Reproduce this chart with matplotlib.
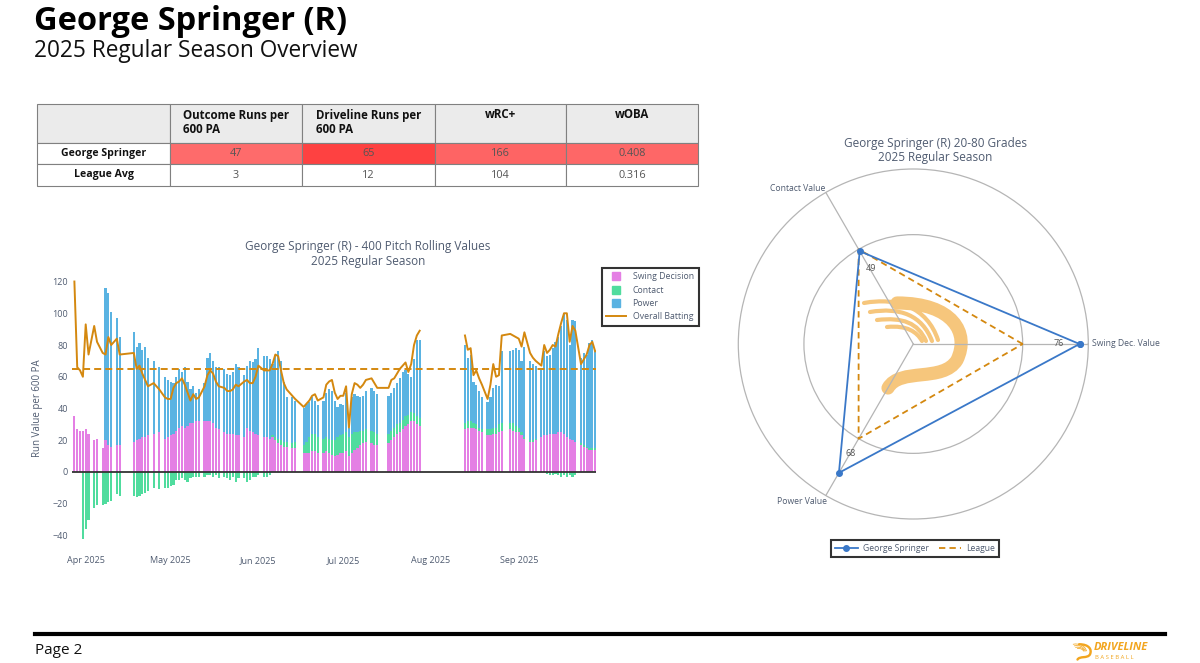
import numpy as np
import pandas as pd
import matplotlib
matplotlib.use("Agg")
import matplotlib.pyplot as plt
import matplotlib.dates as mdates
from matplotlib.patches import Rectangle, PathPatch
from matplotlib.path import Path
from matplotlib.lines import Line2D

plt.rcParams['font.family'] = ['Open Sans', 'DejaVu Sans']

# ---- summary table
table_cols = ["Outcome Runs per\n600 PA", "Driveline Runs per\n600 PA", "wRC+", "wOBA"]
table_rows = ["George Springer", "League Avg"]
springer_vals = ["47", "65", "166", "0.408"]
league_vals = ["3", "12", "104", "0.316"]

# ---- 20-80 grades
radar_cats = ["Swing Dec. Value", "Contact Value", "Power Value"]
springer_grades = [76, 49, 68]
league_grades = [50, 50, 50]

# ---- 400 pitch rolling values (one entry per game)
game_runs = [("03-28", "04-02"), ("04-04", "04-05"), ("04-07", "04-10"), ("04-12", "04-13"),
             ("04-18", "04-23"), ("04-25", "04-25"), ("04-27", "04-27"), ("04-29", "05-11"),
             ("05-13", "05-18"), ("05-20", "05-25"), ("05-27", "06-01"), ("06-03", "06-11"),
             ("06-13", "06-14"), ("06-17", "06-22"), ("06-24", "07-09"), ("07-11", "07-13"),
             ("07-17", "07-28"), ("08-13", "08-19"), ("08-21", "08-26"), ("08-29", "09-03"),
             ("09-05", "09-07"), ("09-09", "09-21"), ("09-23", "09-28")]

swing = [35, 27, 26, 26, 27, 24,
         20, 21,
         15, 20, 17, 16,
         17, 17,
         19, 20, 21, 22, 22, 23,
         24,
         25,
         21, 22, 23, 24, 26, 28, 29, 28, 29, 31, 31, 32, 32,
         32, 32, 32, 31, 28, 27,
         25, 24, 24, 24, 23, 23,
         22, 28, 26, 25, 24, 23,
         22, 22, 21, 22, 20, 18, 17, 16, 16,
         15, 15,
         12, 12, 12, 13, 13, 12,
         12, 13, 12, 11, 10, 11, 12, 12, 13, 10, 12, 14, 15, 17, 18, 19,
         18, 17, 17,
         18, 20, 22, 24, 25, 27, 29, 30, 32, 32, 30, 29,
         27, 28, 28, 28, 27, 26, 25,
         23, 23, 24, 24, 25, 26,
         27, 26, 25, 25, 23, 21,
         19, 19, 20,
         22, 23, 23, 24, 24, 24, 25, 25, 24, 22, 21, 20, 19,
         17, 16, 15, 14, 14, 14]

contact = [0, 0, 0, -42, -36, -30,
           -23, -21,
           -21, -20, -19, -18,
           -14, -15,
           -15, -16, -15, -14, -13, -12,
           -10,
           -11,
           -10, -10, -9, -8, -5, -5, -4, -5, -6, -4, -3, -3, -3,
           -3, -2, -2, -3, -2, -4,
           -3, -4, -5, -3, -6, -4,
           -4, -6, -5, -3, -3, -2,
           -3, -3, -2, 1, 2, 3, 3, 3, 3,
           3, 4,
           5, 7, 10, 11, 11, 10,
           9, 9, 9, 9, 10, 11, 11, 12, 12, 12, 12, 11, 10, 9, 8, 8,
           8, 8, 7,
           6, 6, 6, 6, 6, 6, 6, 6, 6, 5, 5, 5,
           4, 4, 4, 3, 3, 2, 2,
           4, 4, 4, 4, 5, 5,
           4, 5, 4, 3, 2, 1,
           1, 1, 1,
           0, 0, -1, -2, -2, -1, -2, -3, -2, -3, -2, -3, -2,
           1, 1, 1, 1, 1, 1]

power = [0, 0, 0, 0, 0, 0,
         0, 0,
         0, 96, 96, 85,
         80, 68,
         69, 59, 60, 55, 57, 49,
         46,
         41,
         39, 36, 34, 32, 34, 37, 34, 38, 28, 21, 23, 18, 20,
         24, 40, 43, 39, 38, 39,
         40, 38, 37, 39, 45, 43,
         39, 39, 44, 44, 47, 55,
         51, 51, 50, 45, 52, 55, 50, 38, 28,
         29, 26,
         23, 24, 22, 23, 21, 20,
         24, 28, 31, 31, 25, 19, 20, 18, 25, 6, 23, 24, 23, 21, 22, 24,
         27, 26, 25,
         24, 24, 25, 26, 28, 30, 29, 26, 22, 34, 48, 49,
         49, 40, 42, 26, 25, 23, 20,
         17, 20, 25, 27, 24, 45,
         45, 46, 49, 49, 45, 57,
         50, 48, 46,
         42, 53, 50, 50, 54, 58, 60, 67, 76, 74, 59, 76, 76,
         54, 58, 58, 66, 68, 62]

overall = [120, 66, 64, 60, 93, 74,
           92, 82,
           75, 74, 85, 80,
           84, 74,
           75, 65, 67, 62, 58, 54,
           56,
           52,
           47, 46, 46, 53, 56, 57, 59, 55, 50, 45, 49, 46, 47,
           54, 61, 64, 62, 57, 54,
           53, 51, 51, 52, 55, 54,
           57, 58, 56, 56, 60, 67,
           64, 64, 64, 68, 74, 73, 64, 56, 52,
           48, 46,
           41, 43, 45, 48, 49, 45,
           47, 55, 57, 58, 50, 46, 48, 48, 54, 28, 49, 56, 55, 53, 55, 58,
           59, 56, 53,
           53, 58, 59, 62, 65, 67, 69, 63, 68, 80, 86, 89,
           86, 77, 78, 61, 64, 59, 55,
           46, 55, 68, 60, 61, 86,
           87, 86, 85, 84, 79, 88,
           75, 72, 70,
           67, 80, 75, 77, 80, 79, 87, 94, 100, 100, 82, 92, 89,
           68, 71, 74, 80, 82, 76]

driveline_avg = 65

PINK = '#e47fe4'
GREEN = '#50dc9e'
BLUE = '#5ab3e2'
ORANGE = '#d4880f'
SPR_BLUE = '#3a78c8'
TXT = '#4f5b70'
LOGO = '#f6c67c'


def stroke(ax, pts, lw, color, zorder=1):
    codes = [Path.MOVETO] + [Path.CURVE4] * (len(pts) - 1)
    ax.add_patch(PathPatch(Path(pts, codes), fill=False, lw=lw, edgecolor=color,
                           capstyle='round', zorder=zorder))


def draw_logo(ax, x0, y0, s, color):
    # Driveline swoosh, shapes given relative to its top-left corner
    d_shape = [(34, 7), (90, 7), (107, 37), (94, 64), (80, 87), (37, 71), (25, 92)]
    stripes = [[(1, 7), (34, 1), (64, 11), (75, 44)],
               [(7, 16), (37, 11), (59, 19), (69, 45)],
               [(14, 24), (40, 21), (55, 27), (63, 45)],
               [(24, 31), (44, 29), (54, 36), (59, 45)]]
    stroke(ax, [(x0 + s * a, y0 + s * b) for a, b in d_shape], 9.5 * s, color)
    for st in stripes:
        stroke(ax, [(x0 + s * a, y0 + s * b) for a, b in st], 3.0 * s, color)


fig = plt.figure(figsize=(12, 6.63), dpi=100)

# page layer in pixel coordinates
page = fig.add_axes([0, 0, 1, 1], zorder=0)
page.set_xlim(0, 1200)
page.set_ylim(663, 0)
page.axis('off')

page.text(34, 5, "George Springer (R)", fontsize=23.5, fontweight='bold', va='top', color='black')
page.text(34, 39, "2025 Regular Season Overview", fontsize=16.3, va='top', color='#111111')

# table
col_x = [37, 170, 302, 435, 566, 698]
row_y = [104, 143, 164, 186]
heat = ['#fe6b6b', '#fe4141', '#fe6464', '#fe6767']
for i in range(5):
    for j in range(3):
        if j == 0:
            fc = '#ebebeb'
        elif j == 1 and i > 0:
            fc = heat[i - 1]
        else:
            fc = 'white'
        page.add_patch(Rectangle((col_x[i], row_y[j]), col_x[i + 1] - col_x[i],
                                 row_y[j + 1] - row_y[j], facecolor=fc,
                                 edgecolor='#808080', lw=0.8))
for i, c in enumerate(table_cols):
    page.text((col_x[i + 1] + col_x[i + 2]) / 2, 108.5, c, ha='center', va='top',
              multialignment='left', fontsize=8.3, fontweight='bold', color='#111111',
              linespacing=1.15)
for j, (name, vals) in enumerate(zip(table_rows, [springer_vals, league_vals])):
    yc = (row_y[j + 1] + row_y[j + 2]) / 2
    page.text((col_x[0] + col_x[1]) / 2, yc, name, ha='center', va='center',
              fontsize=7.6, fontweight='bold', color='#111111')
    for i, v in enumerate(vals):
        page.text((col_x[i + 1] + col_x[i + 2]) / 2, yc, v, ha='center', va='center',
                  fontsize=7.8, color='#555555')

# footer
page.plot([35, 1165], [634, 634], color='black', lw=3)
page.text(35, 651, "Page 2", fontsize=11, va='center', color='#111111')
draw_logo(page, 1073, 643, 0.18, '#f2a51e')
page.text(1094, 648, "DRIVELINE", fontsize=8, fontweight='bold', style='italic',
          va='center', color='#f2a51e')
page.text(1095, 657.5, "B A S E B A L L", fontsize=4.2, va='center', color='#f2a51e')

# radar watermark
draw_logo(page, 863, 296, 1.0, LOGO)

# ---- rolling values chart
dates = pd.DatetimeIndex(np.concatenate(
    [pd.date_range("2025-" + a, "2025-" + b).values for a, b in game_runs]))
sw = np.array(swing, float)
ct = np.array(contact, float)
pw = np.array(power, float)
ov = np.array(overall, float)

ax = fig.add_axes([71.7 / 1200, 1 - 545 / 663, (596 - 71.7) / 1200, (545 - 272) / 663], zorder=2)
ax.bar(dates, sw, width=0.78, color=PINK, lw=0)
ax.bar(dates, ct, width=0.78, bottom=np.where(ct > 0, sw, 0), color=GREEN, lw=0)
ax.bar(dates, pw, width=0.78, bottom=sw + np.clip(ct, 0, None), color=BLUE, lw=0)

gap = np.diff(dates.values).astype('timedelta64[D]').astype(int)
brk = np.where(gap > 7)[0] + 1
for d_seg, v_seg in zip(np.split(dates.values, brk), np.split(ov, brk)):
    ax.plot(d_seg, v_seg, color=ORANGE, lw=1.4, zorder=4)
ax.axhline(driveline_avg, color=ORANGE, lw=1.4, dashes=(3.6, 2.1), zorder=3)
ax.axhline(0, color='#333333', lw=1.3, zorder=3)

start = mdates.date2num(pd.Timestamp("2025-04-01"))
ax.set_xlim(start - 4.95, start + 180.3)
ax.set_ylim(-46, 126)
ax.set_yticks(range(-40, 121, 20))
ax.xaxis.set_major_locator(mdates.MonthLocator())
ax.xaxis.set_major_formatter(mdates.DateFormatter('%b %Y'))
ax.tick_params(axis='both', length=0, labelsize=6.5, labelcolor=TXT)
ax.tick_params(axis='x', pad=8)
ax.tick_params(axis='y', pad=2.5)
for sp in ax.spines.values():
    sp.set_visible(False)
ax.set_ylabel("Run Value per 600 PA", fontsize=7, color=TXT, labelpad=7)
fig.text(368 / 1200, 1 - 246.5 / 663, "George Springer (R) - 400 Pitch Rolling Values",
         ha='center', va='center', fontsize=8.5, color=TXT)
fig.text(368 / 1200, 1 - 261.5 / 663, "2025 Regular Season",
         ha='center', va='center', fontsize=8.5, color=TXT)

bar_handles = [Line2D([], [], marker='s', ls='none', color=PINK, ms=6),
               Line2D([], [], marker='s', ls='none', color=GREEN, ms=6),
               Line2D([], [], marker='s', ls='none', color=BLUE, ms=6),
               Line2D([], [], color=ORANGE, lw=1.4)]
leg = fig.legend(bar_handles, ["Swing Decision", "Contact", "Power", "Overall Batting"],
                 loc='upper left', bbox_to_anchor=(601.5 / 1200, 1 - 267.5 / 663),
                 fontsize=6.3, frameon=True, fancybox=False, borderpad=0.55,
                 labelspacing=0.5, handlelength=2.2, handletextpad=0.8, borderaxespad=0)
leg.get_frame().set_edgecolor('black')
leg.get_frame().set_linewidth(1.5)
for t in leg.get_texts():
    t.set_color(TXT)

# ---- radar chart
rad = fig.add_axes([738.3 / 1200, 1 - 519 / 663, 350 / 1200, 350 / 663],
                   projection='polar', zorder=2)
rad.patch.set_alpha(0)
theta = np.deg2rad([0, 120, 240])
th_closed = np.append(theta, theta[0])
rad.set_ylim(0, 80)
rad.set_yticks([50])
rad.set_yticklabels([])
rad.set_xticks(theta)
rad.set_xticklabels([])
rad.grid(color='#b5b5b5', lw=0.9)
rad.spines['polar'].set_color('#b5b5b5')
rad.spines['polar'].set_linewidth(0.9)

rad.plot(th_closed, league_grades + league_grades[:1], color=ORANGE, lw=1.3,
         dashes=(3.5, 2.3), zorder=3)
rad.plot(th_closed, springer_grades + springer_grades[:1], color=SPR_BLUE, lw=1.3,
         marker='o', ms=4, zorder=4)

val_offsets = [(-15, 0), (8, -12.5), (8.5, 14)]
for t, g, off in zip(theta, springer_grades, val_offsets):
    rad.annotate(str(g), (t, g), xytext=off, textcoords='offset points',
                 ha='center', va='center', fontsize=6.5, color='#555555')
cat_offsets = [(2.5, 0, 'left'), (-20, 2.5, 'center'), (-17, -4, 'center')]
for t, name, (dx, dy, ha) in zip(theta, radar_cats, cat_offsets):
    rad.annotate(name, (t, 80), xytext=(dx, dy), textcoords='offset points',
                 ha=ha, va='center', fontsize=6.2, color=TXT, annotation_clip=False)

fig.text(935 / 1200, 1 - 143 / 663, "George Springer (R) 20-80 Grades",
         ha='center', va='center', fontsize=8.5, color=TXT)
fig.text(935 / 1200, 1 - 158 / 663, "2025 Regular Season",
         ha='center', va='center', fontsize=8.5, color=TXT)

rad_handles = [Line2D([], [], color=SPR_BLUE, lw=1.3, marker='o', ms=4),
               Line2D([], [], color=ORANGE, lw=1.3, dashes=(3.5, 2.3))]
leg2 = fig.legend(rad_handles, ["George Springer", "League"], loc='center',
                  bbox_to_anchor=(915.3 / 1200, 1 - 548.8 / 663), ncol=2,
                  fontsize=6.2, frameon=True, fancybox=False, borderpad=0.45,
                  handlelength=2.6, handletextpad=0.6, columnspacing=1.2)
leg2.get_frame().set_edgecolor('black')
leg2.get_frame().set_linewidth(1.5)
for t in leg2.get_texts():
    t.set_color(TXT)

fig.savefig("out.png", dpi=100, facecolor='white')
